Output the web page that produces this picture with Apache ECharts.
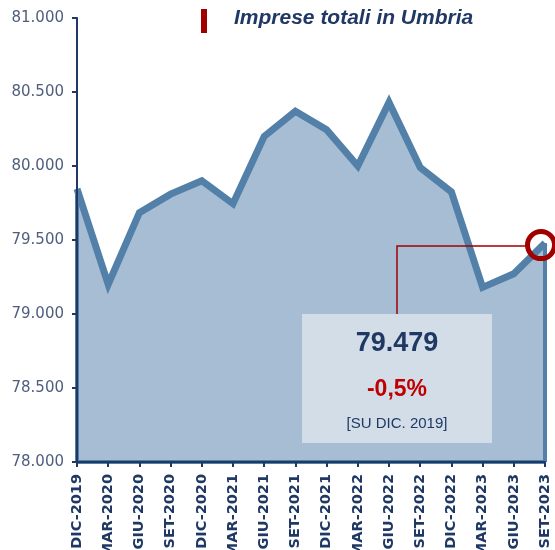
<!DOCTYPE html>
<html>
<head>
<meta charset="utf-8">
<script src="https://cdn.jsdelivr.net/npm/echarts@6/dist/echarts.min.js"></script>
<style>
  html, body { margin: 0; padding: 0; background: #fff; }
  #main { width: 555px; height: 550px; }
</style>
</head>
<body>
<div id="main"></div>
<script>
  // trimestri
  const periodi = ['DIC-2019', 'MAR-2020', 'GIU-2020', 'SET-2020', 'DIC-2020', 'MAR-2021', 'GIU-2021', 'SET-2021',
    'DIC-2021', 'MAR-2022', 'GIU-2022', 'SET-2022', 'DIC-2022', 'MAR-2023', 'GIU-2023', 'SET-2023']
  // imprese totali
  const imprese = [79845, 79200, 79685, 79810, 79900, 79745, 80200, 80370,
    80245, 80000, 80430, 79990, 79825, 79180, 79272, 79479]
  const yTicks = [78000, 81000, 500]
  const titolo = 'Imprese totali in Umbria'
  const notaBase = '[SU DIC. 2019]'

  const NAVY = '#1f3864'
  const LINE = '#5380a9'
  const AREA = '#a7bdd3'
  const RED = '#a00000'

  function fmt (v) {
    return String(v).replace(/\B(?=(\d{3})+(?!\d))/g, '.')
  }

  const ultimo = imprese[imprese.length - 1]
  const variazione = ((ultimo / imprese[0] - 1) * 100).toFixed(1).replace('.', ',') + '%'

  const chart = echarts.init(document.getElementById('main'))

  const edge = function (a, b) {
    return [{ coord: a }, { coord: b }]
  }
  const first = periodi[0]
  const last = periodi[periodi.length - 1]

  let options = {
    animation: false,
    grid: { left: 77, right: 10, top: 18, bottom: 88, containLabel: false, outerBoundsMode: 'none' },
    xAxis: {
      type: 'category',
      data: periodi,
      boundaryGap: false,
      z: 5,
      axisLine: { lineStyle: { color: NAVY, width: 2 } },
      axisTick: { show: true, length: 5, alignWithLabel: true, lineStyle: { color: NAVY, width: 2 } },
      axisLabel: {
        rotate: 90,
        interval: 0,
        margin: 12,
        color: NAVY,
        fontFamily: 'DejaVu Sans',
        fontWeight: 'bold',
        fontSize: 14.5
      },
      splitLine: { show: false }
    },
    yAxis: {
      type: 'value',
      min: yTicks[0],
      max: yTicks[1],
      interval: yTicks[2],
      z: 5,
      axisLine: { show: true, lineStyle: { color: NAVY, width: 2 } },
      axisTick: { show: true, length: 5, lineStyle: { color: NAVY, width: 2 } },
      axisLabel: {
        margin: 13,
        color: '#4f5d7e',
        fontFamily: 'DejaVu Sans',
        fontSize: 15,
        formatter: fmt
      },
      splitLine: { show: false }
    },
    series: [{
      type: 'line',
      data: imprese,
      symbol: 'none',
      lineStyle: { color: LINE, width: 7, join: 'miter' },
      areaStyle: { color: AREA, opacity: 1 },
      markLine: {
        silent: true,
        symbol: 'none',
        label: { show: false },
        lineStyle: { color: LINE, width: 4, type: 'solid' },
        data: [
          edge([last, yTicks[0]], [last, ultimo]),
          edge([first, yTicks[0]], [last, yTicks[0]]),
          edge([first, yTicks[0]], [first, imprese[0]])
        ]
      },
      markPoint: {
        silent: true,
        symbol: 'circle',
        symbolSize: 27,
        symbolOffset: [-4, 2],
        label: { show: false },
        itemStyle: { color: 'rgba(0,0,0,0)', borderColor: RED, borderWidth: 5 },
        data: [{ coord: [last, ultimo] }]
      }
    }],
    graphic: [
      // titolo
      { type: 'rect', left: 201, top: 9, shape: { width: 6, height: 24 }, style: { fill: RED } },
      {
        type: 'text', left: 234, top: 8,
        style: { text: titolo, fill: NAVY, font: 'italic bold 21px "Liberation Sans"' }
      },
      // riquadro
      {
        type: 'polyline', z: 10,
        shape: { points: [[397, 314], [397, 246], [527, 246]] },
        style: { stroke: RED, lineWidth: 1.5, fill: null }
      },
      { type: 'rect', left: 302, top: 314, z: 10, shape: { width: 190, height: 129 }, style: { fill: '#d3dde8' } },
      {
        type: 'text', x: 397, y: 344, z: 11,
        style: { text: fmt(ultimo), fill: NAVY, align: 'center', verticalAlign: 'middle', font: 'bold 27px "Liberation Sans"' }
      },
      {
        type: 'text', x: 397, y: 390, z: 11,
        style: { text: variazione, fill: '#c00000', align: 'center', verticalAlign: 'middle', font: 'bold 23px "Liberation Sans"' }
      },
      {
        type: 'text', x: 397, y: 424, z: 11,
        style: { text: notaBase, fill: NAVY, align: 'center', verticalAlign: 'middle', font: '15px "Liberation Sans"' }
      }
    ]
  }

  chart.setOption(options)
</script>
</body>
</html>
